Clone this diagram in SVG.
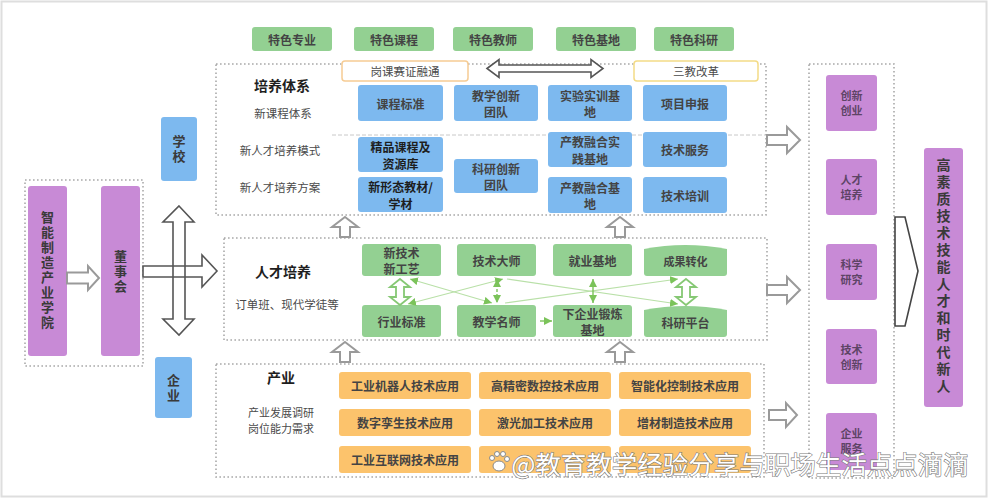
<svg xmlns="http://www.w3.org/2000/svg" width="989" height="500" viewBox="0 0 989 500">
<defs>
<style>
text{font-family:"Noto Sans CJK SC","Noto Sans",sans-serif;text-anchor:middle;dominant-baseline:central}
.b{font-weight:bold;font-size:12px;fill:#444}
.bd{font-weight:bold;font-size:12px;fill:#1e1e1e}
.h{font-weight:bold;font-size:14px;fill:#1e1e1e}
.s{font-size:11.5px;fill:#4a4a4a}
.p{font-weight:bold;font-size:11px;fill:#5e4466}
.v{font-weight:bold;font-size:13px;fill:#3a3a3a;writing-mode:vertical-rl;letter-spacing:2px}
.dot{fill:none;stroke:#a9a9a9;stroke-width:1.6;stroke-dasharray:1.6 2.4}
.blue{fill:#7DB9EF}
.green{fill:#93D092}
.orange{fill:#FCC36C}
.purple{fill:#C88AD6}
.hg{fill:#fff;stroke:#9a9a9a;stroke-width:2;stroke-linejoin:miter}
.hd{fill:#fff;stroke:#555;stroke-width:1.6}
.hgr{fill:#fff;stroke:#86c874;stroke-width:1.8}
.gl{stroke:#b9e0a8;stroke-width:1.2;fill:none}
.ga{stroke:#7BC35A;stroke-width:1.4;fill:none}
</style>
<marker id="ah" viewBox="0 0 8 8" refX="8" refY="4" markerWidth="8" markerHeight="8" markerUnits="userSpaceOnUse" orient="auto-start-reverse"><path d="M0,0 L8,4 L0,8 z" fill="#7BC35A"/></marker>
</defs>
<rect x="1.5" y="1.5" width="985" height="495" fill="#fff" stroke="#dedede" stroke-width="2"/>

<!-- section frames -->
<g id="frames">
<rect class="dot" x="216" y="64" width="550" height="151"/>
<rect class="dot" x="224" y="238" width="543" height="102"/>
<rect class="dot" x="216" y="364" width="548" height="113"/>
<rect class="dot" x="25" y="180" width="118" height="186"/>
<rect class="dot" x="809" y="64" width="85" height="414"/>
<line x1="332" y1="135" x2="765" y2="135" stroke="#c8c8c8" stroke-width="1" stroke-dasharray="4 2"/>
</g>

<!-- top feature boxes -->
<g id="features">
<rect class="green" x="252" y="27" width="80" height="24" rx="3"/><text class="b" x="292" y="39">特色专业</text>
<rect class="green" x="354" y="27" width="80" height="24" rx="3"/><text class="b" x="394" y="39">特色课程</text>
<rect class="green" x="453" y="27" width="80" height="24" rx="3"/><text class="b" x="493" y="39">特色教师</text>
<rect class="green" x="556" y="27" width="80" height="24" rx="3"/><text class="b" x="596" y="39">特色基地</text>
<rect class="green" x="654" y="27" width="80" height="24" rx="3"/><text class="b" x="694" y="39">特色科研</text>
</g>

<!-- training system -->
<g id="training-system">
<text class="h" x="282" y="85">培养体系</text>
<text class="s" x="283" y="113">新课程体系</text>
<text class="s" x="280" y="150">新人才培养模式</text>
<text class="s" x="280" y="187">新人才培养方案</text>
<rect x="342" y="61" width="126" height="20" rx="3" fill="#fff" stroke="#F6CC94" stroke-width="1.5"/><text class="s" x="405" y="71">岗课赛证融通</text>
<rect x="634" y="61" width="124" height="20" rx="3" fill="#fff" stroke="#F3DB86" stroke-width="1.5"/><text class="s" x="696" y="71">三教改革</text>
</g>
<g id="blue-boxes">
<rect class="blue" x="358" y="85" width="85" height="36" rx="3"/><text class="b" x="400.5" y="103">课程标准</text>
<rect class="blue" x="358" y="137" width="85" height="35" rx="3"/><text class="bd" x="400.5" y="146.5">精品课程及<tspan x="400.5" dy="16">资源库</tspan></text>
<rect class="blue" x="358" y="177" width="85" height="35" rx="3"/><text class="bd" x="400.5" y="186.5">新形态教材/<tspan x="400.5" dy="16">学材</tspan></text>
<rect class="blue" x="454" y="85" width="84" height="36" rx="3"/><text class="b" x="496" y="95">教学创新<tspan x="496" dy="16">团队</tspan></text>
<rect class="blue" x="454" y="159" width="84" height="34" rx="3"/><text class="b" x="496" y="168">科研创新<tspan x="496" dy="16">团队</tspan></text>
<rect class="blue" x="548" y="85" width="84" height="36" rx="3"/><text class="b" x="590" y="95">实验实训基<tspan x="590" dy="16">地</tspan></text>
<rect class="blue" x="548" y="132" width="84" height="35" rx="3"/><text class="b" x="590" y="141.5">产教融合实<tspan x="590" dy="16">践基地</tspan></text>
<rect class="blue" x="548" y="177" width="84" height="36" rx="3"/><text class="b" x="590" y="187">产教融合基<tspan x="590" dy="16">地</tspan></text>
<rect class="blue" x="643" y="85" width="84" height="36" rx="3"/><text class="b" x="685" y="103">项目申报</text>
<rect class="blue" x="643" y="132" width="84" height="35" rx="3"/><text class="b" x="685" y="149.5">技术服务</text>
<rect class="blue" x="643" y="177" width="84" height="36" rx="3"/><text class="b" x="685" y="195">技术培训</text>
</g>

<!-- talent cultivation -->
<g id="talent">
<text class="h" x="283" y="271">人才培养</text>
<text class="s" x="287" y="304">订单班、现代学徒等</text>
<rect class="green" x="362" y="244" width="79" height="32" rx="3"/><text class="b" x="401.5" y="252">新技术<tspan x="401.5" dy="16">新工艺</tspan></text>
<rect class="green" x="457" y="244" width="79" height="32" rx="3"/><text class="b" x="496.5" y="260">技术大师</text>
<rect class="green" x="553" y="244" width="79" height="32" rx="3"/><text class="b" x="592.5" y="260">就业基地</text>
<path class="green" d="M644,249 Q685,241 727,249 V273 Q727,276 724,276 H647 Q644,276 644,273 Z"/><text class="b" x="685.5" y="261" style="font-size:11px">成果转化</text>
<rect class="green" x="362" y="305" width="79" height="32" rx="3"/><text class="b" x="401.5" y="321">行业标准</text>
<rect class="green" x="457" y="305" width="79" height="32" rx="3"/><text class="b" x="496.5" y="321">教学名师</text>
<rect class="green" x="553" y="305" width="79" height="32" rx="3"/><text class="b" x="592.5" y="313">下企业锻炼<tspan x="592.5" dy="16">基地</tspan></text>
<path class="green" d="M644,310 Q685,302 727,310 V334 Q727,337 724,337 H647 Q644,337 644,334 Z"/><text class="b" x="685.5" y="322">科研平台</text>
</g>

<!-- industry -->
<g id="industry">
<text class="h" x="281" y="377">产业</text>
<text class="s" x="281" y="412" style="font-size:11px">产业发展调研<tspan x="281" dy="16">岗位能力需求</tspan></text>
<rect class="orange" x="339" y="372" width="132" height="27" rx="3"/><text class="b" x="405" y="385.5">工业机器人技术应用</text>
<rect class="orange" x="479" y="372" width="132" height="27" rx="3"/><text class="b" x="545" y="385.5">高精密数控技术应用</text>
<rect class="orange" x="619" y="372" width="132" height="27" rx="3"/><text class="b" x="685" y="385.5">智能化控制技术应用</text>
<rect class="orange" x="339" y="409" width="132" height="27" rx="3"/><text class="b" x="405" y="422.5">数字孪生技术应用</text>
<rect class="orange" x="479" y="409" width="132" height="27" rx="3"/><text class="b" x="545" y="422.5">激光加工技术应用</text>
<rect class="orange" x="619" y="409" width="132" height="27" rx="3"/><text class="b" x="685" y="422.5">增材制造技术应用</text>
<rect class="orange" x="339" y="446" width="132" height="27" rx="3"/><text class="b" x="405" y="459.5">工业互联网技术应用</text>
<rect class="orange" x="479" y="446" width="132" height="27" rx="3"/>
<rect class="orange" x="619" y="446" width="132" height="27" rx="3"/>
</g>

<!-- left side -->
<g id="college">
<rect class="purple" x="28" y="186" width="39" height="170" rx="3"/>
<text class="v" x="47.5" y="271">智能制造产业学院</text>
</g>
<g id="board">
<rect class="purple" x="101" y="186" width="39" height="170" rx="3"/>
<text class="v" x="120.5" y="272">董事会</text>
</g>
<g id="school">
<rect class="blue" x="161" y="117" width="36" height="64" rx="3"/>
<text class="v" x="179" y="150">学校</text>
</g>
<g id="enterprise">
<rect class="blue" x="155" y="357" width="37" height="61" rx="3"/>
<text class="v" x="173.5" y="389">企业</text>
</g>

<!-- right side -->
<g id="outcomes">
<rect class="purple" x="826" y="75" width="51" height="56" rx="3"/><text class="p" x="851.5" y="95">创新<tspan x="851.5" dy="15">创业</tspan></text>
<rect class="purple" x="826" y="159" width="51" height="56" rx="3"/><text class="p" x="851.5" y="179">人才<tspan x="851.5" dy="15">培养</tspan></text>
<rect class="purple" x="826" y="244" width="51" height="56" rx="3"/><text class="p" x="851.5" y="264">科学<tspan x="851.5" dy="15">研究</tspan></text>
<rect class="purple" x="826" y="329" width="51" height="55" rx="3"/><text class="p" x="851.5" y="349">技术<tspan x="851.5" dy="15">创新</tspan></text>
<rect class="purple" x="826" y="413" width="51" height="57" rx="3"/><text class="p" x="851.5" y="433">企业<tspan x="851.5" dy="15">服务</tspan></text>
</g>
<g id="goal">
<rect class="purple" x="924" y="148" width="39" height="259" rx="3"/>
<text class="v" x="943.5" y="277" style="font-size:14px;letter-spacing:3px">高素质技术技能人才和时代新人</text>
</g>

<!-- connectors -->
<g id="connectors">
<polygon class="hd" points="487,68.5 499,59.5 499,65 591,65 591,59.5 603,68.5 591,77.5 591,72 499,72 499,77.5"/>
<polygon class="hg" points="67,272.5 88,272.5 88,266 99,278 88,290 88,283.5 67,283.5"/>
<polygon points="179,206 194,222 185,222 185,319 194,319 179,335 163,319 173,319 173,222 163,222" fill="#fff"/>
<polygon points="143,266 202,266 202,255 217,271 202,287 202,277 143,277" fill="#fff"/>
<polygon class="hd" style="fill:none" points="179,206 194,222 185,222 185,319 194,319 179,335 163,319 173,319 173,222 163,222"/>
<polygon class="hd" style="fill:none" points="143,266 202,266 202,255 217,271 202,287 202,277 143,277"/>
<polygon class="hg" points="345,217 358,227 350,227 350,237 340,237 340,227 332,227"/>
<polygon class="hg" points="620,217 633,227 625,227 625,237 615,237 615,227 607,227"/>
<polygon class="hg" points="345,342 358,352 350,352 350,362 340,362 340,352 332,352"/>
<polygon class="hg" points="620,342 633,352 625,352 625,362 615,362 615,352 607,352"/>
<polygon class="hg" points="767,135 787,135 787,127 800,140 787,153 787,145 767,145"/>
<polygon class="hg" points="767,285 787,285 787,277 800,290 787,303 787,295 767,295"/>
<polygon class="hg" points="769,410 786,410 786,403 797,415 786,427 786,420 769,420"/>
<polygon points="895,217 905,217 918,271 905,326 895,326" fill="#fff" stroke="#444" stroke-width="1.6"/>
<line class="gl" x1="410" y1="279" x2="492" y2="303" marker-start="url(#ah)" marker-end="url(#ah)"/>
<line class="gl" x1="408" y1="304" x2="503" y2="279" marker-start="url(#ah)" marker-end="url(#ah)"/>
<line class="gl" x1="507" y1="279" x2="678" y2="304" marker-end="url(#ah)"/>
<line class="gl" x1="505" y1="303" x2="678" y2="279" marker-end="url(#ah)"/>
<line class="ga" x1="497" y1="279" x2="497" y2="303" stroke-dasharray="3 2" marker-start="url(#ah)" marker-end="url(#ah)"/>
<line class="ga" x1="593" y1="279" x2="593" y2="303" marker-start="url(#ah)" marker-end="url(#ah)"/>
<line class="ga" x1="540" y1="321" x2="552" y2="321" marker-end="url(#ah)"/>
<polygon class="hgr" points="400,279 410,287 404,287 404,297 410,297 400,305 390,297 396,297 396,287 390,287"/>
<polygon class="hgr" points="686,279 696,287 690,287 690,297 696,297 686,305 676,297 682,297 682,287 676,287"/>
</g>

<!-- watermark -->
<g id="watermark">
<g fill="#fff" stroke="#8a8a8a" stroke-width="1">
<ellipse cx="499" cy="466" rx="6" ry="5"/><circle cx="492" cy="458" r="2.5"/><circle cx="497" cy="454" r="2.5"/><circle cx="503" cy="454" r="2.5"/><circle cx="507" cy="459" r="2.5"/>
</g>
<text x="740" y="462" style="font-size:25.5px;fill:#fff;stroke:#7a7a7a;stroke-width:1.2;paint-order:stroke">@教育教学经验分享与职场生活点点滴滴</text>
</g>
</svg>
